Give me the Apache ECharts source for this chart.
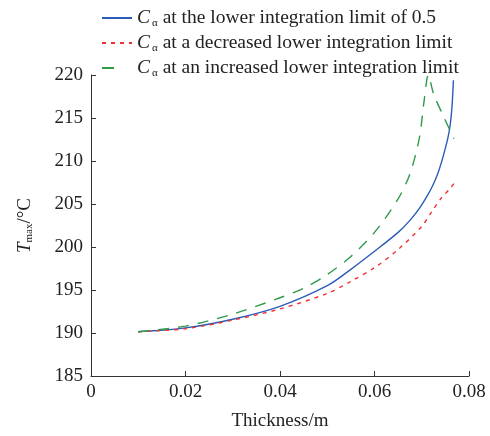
<!DOCTYPE html>
<html><head><meta charset="utf-8">
<script src="https://cdn.jsdelivr.net/npm/echarts@6/dist/echarts.min.js"></script>
<style>html,body{margin:0;padding:0;background:#fff}#c{width:490px;height:436px}</style>
</head><body><div id="c"></div>
<script>
const seriesNames = ['at the lower integration limit of 0.5', 'at a decreased lower integration limit', 'at an increased lower integration limit'];
const thicknessBlue = [0.01, 0.02, 0.03, 0.04, 0.05, 0.055, 0.06, 0.065, 0.0675, 0.0695, 0.071, 0.0722, 0.0733, 0.0742, 0.0749, 0.0755, 0.076, 0.0764, 0.0767];
const tmaxBlue =      [190.15, 190.6, 191.6, 193.1, 195.5, 197.4, 199.5, 201.7, 203.1, 204.5, 205.8, 207.0, 208.4, 209.9, 211.3, 212.6, 214.1, 216.3, 219.4];
const thicknessRed = [0.01, 0.02, 0.03, 0.04, 0.05, 0.055, 0.06, 0.065, 0.07, 0.072, 0.074, 0.076, 0.077];
const tmaxRed =      [190.15, 190.5, 191.5, 192.8, 194.6, 196.0, 197.6, 199.7, 202.4, 204.0, 205.6, 206.8, 207.5];
const thicknessGreen = [0.01, 0.02, 0.03, 0.04, 0.045, 0.05, 0.055, 0.06, 0.065, 0.0675, 0.0695, 0.0705, 0.0714, 0.0725, 0.0746, 0.0768];
const tmaxGreen =      [190.15, 190.8, 192.2, 194.1, 195.2, 196.8, 198.9, 201.7, 205.6, 208.5, 212.7, 217.0, 220.0, 217.8, 215.2, 212.6];
const xTicks = [0, 0.02, 0.04, 0.06, 0.08];
const yMin = 185, yMax = 220, yStep = 5;

const FONT = '"Liberation Serif", "Times New Roman", serif';
const TXT = '#222';
const pairs = (xs, ys) => xs.map((x, i) => [x, ys[i]]);
const chart = echarts.init(document.getElementById('c'), null, {renderer: 'canvas'});
const colors = ['#2a5cb8', '#f03030', '#2e9a4a'];
chart.setOption({
  animation: false,
  grid: {left: 91, right: 21, top: 75, bottom: 55},
  legend: {
    orient: 'vertical', left: 96, top: 3, itemWidth: 30, itemHeight: 10, itemGap: 4,
    itemStyle: {color: 'rgba(0,0,0,0)', borderWidth: 0, opacity: 0},
    textStyle: {
      fontFamily: FONT, fontSize: 19.5, color: TXT,
      rich: {
        c: {fontFamily: FONT, fontSize: 19.5, fontStyle: 'italic', color: TXT},
        a: {fontFamily: FONT, fontSize: 11, color: TXT, padding: [11, 0, 0, 2]},
        t: {fontFamily: FONT, fontSize: 19.5, color: TXT}
      }
    },
    formatter: n => '{c|C}{a|α}{t| ' + n + '}',
    data: [
      {name: seriesNames[0]},
      {name: seriesNames[1]},
      {name: seriesNames[2], lineStyle: {type: [12, 30]}}
    ]
  },
  xAxis: {
    type: 'value', min: 0, max: 0.08, interval: 0.02,
    name: 'Thickness/m', nameLocation: 'middle', nameGap: 36,
    nameTextStyle: {fontFamily: FONT, fontSize: 19, color: TXT},
    axisLine: {show: true, lineStyle: {color: '#333', width: 1}},
    axisTick: {show: true, inside: true, length: 5, lineStyle: {color: '#333'}},
    axisLabel: {fontFamily: FONT, fontSize: 19, color: TXT, margin: 7,
      formatter: v => xTicks.includes(Math.round(v * 100) / 100) ? String(Math.round(v * 100) / 100) : ''},
    splitLine: {show: false}
  },
  yAxis: {
    type: 'value', min: yMin, max: yMax, interval: yStep,
    name: '{i|T}{s|max}{t|/°C}', nameLocation: 'middle', nameGap: 56, nameRotate: 90,
    nameTextStyle: {
      fontFamily: FONT, fontSize: 19, color: TXT,
      rich: {
        i: {fontFamily: FONT, fontSize: 19, fontStyle: 'italic', color: TXT},
        t: {fontFamily: FONT, fontSize: 19, color: TXT},
        s: {fontFamily: FONT, fontSize: 11, color: TXT, padding: [9, 0, 0, 0]}
      }
    },
    axisLine: {show: true, lineStyle: {color: '#333', width: 1}},
    axisTick: {show: true, inside: true, length: 5, lineStyle: {color: '#333'}},
    axisLabel: {fontFamily: FONT, fontSize: 19, color: TXT, margin: 8},
    splitLine: {show: false}
  },
  series: [
    {name: seriesNames[0], type: 'line', data: pairs(thicknessBlue, tmaxBlue), smooth: 0.3,
     showSymbol: false, symbol: 'none', lineStyle: {color: colors[0], width: 1.4}, itemStyle: {color: colors[0]}},
    {name: seriesNames[1], type: 'line', data: pairs(thicknessRed, tmaxRed), smooth: 0.3,
     showSymbol: false, symbol: 'none', lineStyle: {color: colors[1], width: 1.4, type: [4, 5]}, itemStyle: {color: colors[1]}},
    {name: seriesNames[2], type: 'line', data: pairs(thicknessGreen, tmaxGreen), smooth: 0.3,
     showSymbol: false, symbol: 'none', lineStyle: {color: colors[2], width: 1.4, type: [11, 9]}, itemStyle: {color: colors[2]}}
  ]
});
</script></body></html>
